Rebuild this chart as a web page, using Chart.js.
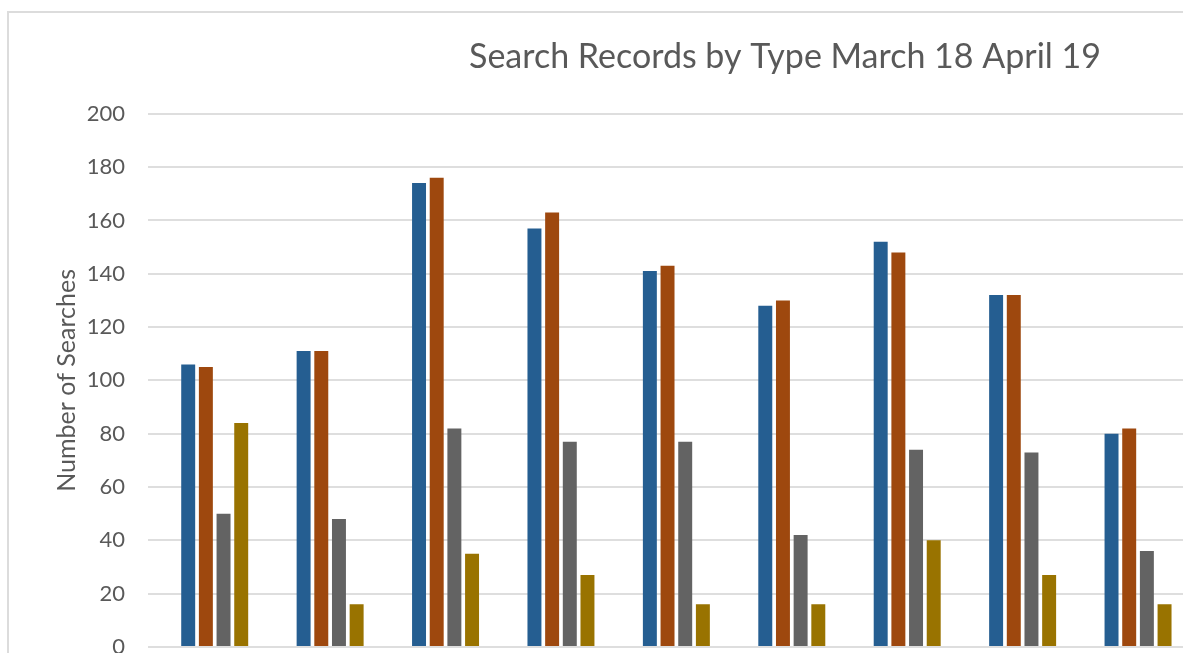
<!DOCTYPE html>
<html>
<head>
<meta charset="utf-8">
<script src="https://cdn.jsdelivr.net/npm/chart.js@4.4.1/dist/chart.umd.min.js"></script>
<style>
    html, body { margin: 0; padding: 0; background: #fff; overflow: hidden; width: 1183px; height: 653px; }
    #frame { position: absolute; left: 7px; top: 11px; width: 1533px; height: 700px; border: 2px solid #dcdcdc; }
    #chart { display: block; }
</style>
</head>
<body>
<div id="frame"><canvas id="chart" width="1533" height="700"></canvas></div>
<script>

// the reference is cut off on the right: only the first 9 of 12 groups are visible
const categories = ['1', '2', '3', '4', '5', '6', '7', '8', '9', '10', '11', '12'];
const series1 = [106, 111, 174, 157, 141, 128, 152, 132, 80, null, null, null];
const series2 = [105, 111, 176, 163, 143, 130, 148, 132, 82, null, null, null];
const series3 = [50, 48, 82, 77, 77, 42, 74, 73, 36, null, null, null];
const series4 = [84, 16, 35, 27, 16, 16, 40, 27, 16, null, null, null];
const yTicks = [0, 20, 40, 60, 80, 100, 120, 140, 160, 180, 200];

const fontName = "Lato, 'Open Sans', sans-serif";
const textColor = '#595959';

function CreaChart(chart_id) {

    const ctx = document.getElementById(chart_id);

    var datasets = [
        { label: 'Series 1', data: series1, backgroundColor: '#255e91' },
        { label: 'Series 2', data: series2, backgroundColor: '#9e480e' },
        { label: 'Series 3', data: series3, backgroundColor: '#636363' },
        { label: 'Series 4', data: series4, backgroundColor: '#997300' }
    ];

    return new Chart(ctx, {
        type: 'bar',
        data: {
            labels: categories,
            datasets: datasets
        },
        options: {
            responsive: false,
            animation: false,
            layout: {
                padding: { left: 19, right: 0, top: 0, bottom: 66 }
            },
            datasets: {
                bar: {
                    categoryPercentage: 0.6125,
                    barPercentage: 0.79,
                    borderWidth: 0
                }
            },
            plugins: {
                legend: { display: false },
                tooltip: { enabled: false },
                title: {
                    display: true,
                    text: 'Search Records by Type March 18 April 19',
                    color: textColor,
                    padding: { top: 24, bottom: 36 },
                    font: { size: 34, family: fontName, weight: 'normal' }
                }
            },
            scales: {
                x: {
                    display: false
                },
                y: {
                    min: 0,
                    max: 200,
                    afterBuildTicks: function (scale) {
                        scale.ticks = yTicks.map(v => ({ value: v }));
                    },
                    afterFit: function (scale) {
                        scale.width = 129;
                    },
                    border: { display: false },
                    grid: {
                        color: '#dedede',
                        lineWidth: 2,
                        drawTicks: true,
                        tickLength: 9
                    },
                    ticks: {
                        color: textColor,
                        padding: 23,
                        font: { size: 22, family: fontName }
                    },
                    title: {
                        display: true,
                        text: 'Number of Searches',
                        color: textColor,
                        padding: { top: 24, bottom: 0 },
                        font: { size: 25, family: fontName }
                    }
                }
            }
        }
    });
}

CreaChart('chart');
</script>
</body>
</html>
